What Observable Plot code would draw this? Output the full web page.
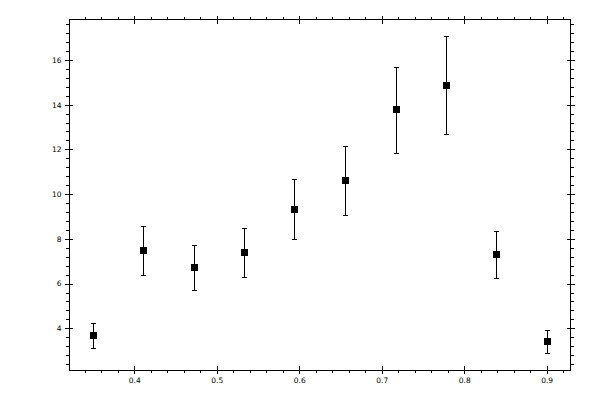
<!DOCTYPE html>
<html>
<head>
<meta charset="utf-8">
<script src="https://cdn.jsdelivr.net/npm/d3@7"></script>
<script src="https://cdn.jsdelivr.net/npm/@observablehq/plot@0.6"></script>
<style>
  html, body { margin: 0; padding: 0; background: #fff; }
  svg { display: block; shape-rendering: crispEdges; }
  svg text { fill: #000; }
</style>
</head>
<body>
<div id="chart"></div>
<script>
const xValues = [0.35, 0.411, 0.472, 0.533, 0.594, 0.655, 0.717, 0.778, 0.839, 0.90];
const yValues = [3.69, 7.49, 6.73, 7.40, 9.32, 10.62, 13.79, 14.87, 7.31, 3.42];
const yLow    = [3.11, 6.37, 5.70, 6.28, 7.98, 9.05, 11.83, 12.68, 6.24, 2.88];
const yHigh   = [4.25, 8.59, 7.71, 8.47, 10.66, 12.17, 15.70, 17.09, 8.37, 3.91];

const xMajor = [0.4, 0.5, 0.6, 0.7, 0.8, 0.9];
const xMinor = [0.34, 0.36, 0.38, 0.42, 0.44, 0.46, 0.48, 0.52, 0.54, 0.56, 0.58,
                0.62, 0.64, 0.66, 0.68, 0.72, 0.74, 0.76, 0.78, 0.82, 0.84, 0.86, 0.88, 0.92];
const yMajor = [4, 6, 8, 10, 12, 14, 16];
const yMinor = [2.4, 2.8, 3.2, 3.6, 4.4, 4.8, 5.2, 5.6, 6.4, 6.8, 7.2, 7.6, 8.4, 8.8, 9.2, 9.6,
                10.4, 10.8, 11.2, 11.6, 12.4, 12.8, 13.2, 13.6, 14.4, 14.8, 15.2, 15.6,
                16.4, 16.8, 17.2, 17.6];

const data = xValues.map((x, i) => ({x, y: yValues[i], lo: yLow[i], hi: yHigh[i]}));

const capSymbol = {
  draw(context, size) {
    const r = Math.sqrt(size / Math.PI);
    context.moveTo(-r, 0);
    context.lineTo(r, 0);
  }
};

const fmt = d3.format(".1f");
const noText = {fill: "none", label: null};

const chart = Plot.plot({
  width: 600,
  height: 400,
  marginLeft: 69,
  marginRight: 30,
  marginTop: 19,
  marginBottom: 30,
  style: {fontFamily: "DejaVu Sans", fontSize: "7.5px", background: "#fff", color: "#000"},
  x: {domain: [0.3208, 0.9283]},
  y: {domain: [2.135, 17.83]},
  marks: [
    Plot.frame({stroke: "#000"}),
    // bottom axis
    Plot.axisX({anchor: "bottom", ticks: xMajor, tickSize: 4, tickPadding: 3.5, tickFormat: fmt, label: null}),
    Plot.axisX({anchor: "bottom", ticks: xMajor, tickSize: 4, dy: -4, ...noText}),
    Plot.axisX({anchor: "bottom", ticks: xMinor, tickSize: 3, ...noText}),
    // top axis
    Plot.axisX({anchor: "top", ticks: xMajor, tickSize: 4, ...noText}),
    Plot.axisX({anchor: "top", ticks: xMajor, tickSize: 4, dy: 4, ...noText}),
    Plot.axisX({anchor: "top", ticks: xMinor, tickSize: 3, ...noText}),
    // left axis
    Plot.axisY({anchor: "left", ticks: yMajor, tickSize: 4, tickPadding: 4, label: null}),
    Plot.axisY({anchor: "left", ticks: yMajor, tickSize: 4, dx: 4, ...noText}),
    Plot.axisY({anchor: "left", ticks: yMinor, tickSize: 3, ...noText}),
    // right axis
    Plot.axisY({anchor: "right", ticks: yMajor, tickSize: 4, ...noText}),
    Plot.axisY({anchor: "right", ticks: yMajor, tickSize: 4, dx: -4, ...noText}),
    Plot.axisY({anchor: "right", ticks: yMinor, tickSize: 3, ...noText}),
    // error bars
    Plot.ruleX(data, {x: "x", y1: "lo", y2: "hi", stroke: "#000", strokeWidth: 1}),
    Plot.dot(data, {x: "x", y: "lo", symbol: capSymbol, r: 2.5, stroke: "#000", fill: "none", strokeWidth: 1}),
    Plot.dot(data, {x: "x", y: "hi", symbol: capSymbol, r: 2.5, stroke: "#000", fill: "none", strokeWidth: 1}),
    // markers
    Plot.dot(data, {x: "x", y: "y", symbol: "square", r: 3.95, fill: "#000", stroke: "none"})
  ]
});

document.getElementById("chart").appendChild(chart);
</script>
</body>
</html>
